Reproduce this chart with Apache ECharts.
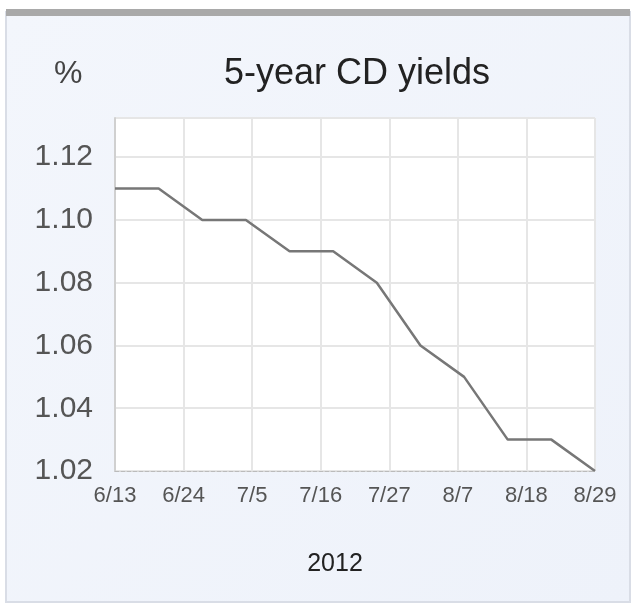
<!DOCTYPE html>
<html>
<head>
<meta charset="utf-8">
<script src="https://cdn.jsdelivr.net/npm/echarts@6/dist/echarts.min.js"></script>
<style>
  html, body { margin: 0; padding: 0; background: #ffffff; }
  #chart { width: 633px; height: 606px; }
</style>
</head>
<body>
<div id="chart"></div>
<script>
// weekly readings, days counted from 6/13/2012
const dayOffsets = [0, 7, 14, 21, 28, 35, 42, 49, 56, 63, 70, 77];
const yields = [1.11, 1.11, 1.10, 1.10, 1.09, 1.09, 1.08, 1.06, 1.05, 1.03, 1.03, 1.02];
const xTickLabels = ["6/13", "6/24", "7/5", "7/16", "7/27", "8/7", "8/18", "8/29"];
const yTicks = [1.02, 1.04, 1.06, 1.08, 1.10, 1.12];

const FONT = "'Liberation Sans', Arial, sans-serif";

const myChart = echarts.init(document.getElementById("chart"));

const option = {
  backgroundColor: "#ffffff",
  animation: false,
  graphic: [
    {
      type: "rect",
      shape: { x: 6, y: 12, width: 624, height: 590 },
      style: {
        fill: {
          type: "linear", x: 0, y: 0, x2: 1, y2: 1,
          colorStops: [
            { offset: 0, color: "#f3f6fc" },
            { offset: 1, color: "#eef2fa" },
          ],
        },
        stroke: "#d9dde6",
        lineWidth: 2,
      },
      z: -10,
    },
    {
      type: "rect",
      shape: { x: 6, y: 9, width: 624, height: 7 },
      style: { fill: "#a9a9a9" },
      z: -9,
    },
    {
      type: "text",
      style: {
        x: 54, y: 74, text: "%", fontSize: 32, fill: "#444",
        fontFamily: FONT, textVerticalAlign: "middle",
      },
    },
    {
      type: "text",
      style: {
        x: 357, y: 74, text: "5-year CD yields", fontSize: 36, fill: "#222",
        fontFamily: FONT, textAlign: "center", textVerticalAlign: "middle",
      },
    },
    {
      type: "text",
      style: {
        x: 335, y: 564, text: "2012", fontSize: 25, fill: "#222",
        fontFamily: FONT, textAlign: "center", textVerticalAlign: "middle",
      },
    },
  ],
  grid: {
    left: 115,
    right: 38,
    top: 118,
    bottom: 135,
    show: true,
    backgroundColor: "#ffffff",
    borderWidth: 0,
  },
  xAxis: {
    type: "value",
    min: 0,
    max: 77,
    interval: 11,
    axisLine: { show: true, lineStyle: { color: "#bbbbbb", type: "dashed", width: 1 } },
    axisTick: { show: false },
    splitLine: { show: true, lineStyle: { color: "#e6e6e6", width: 2 } },
    axisLabel: {
      margin: 14,
      fontSize: 22,
      color: "#555",
      fontFamily: FONT,
      formatter(v) {
        return xTickLabels[Math.round(v / 11)] || "";
      },
    },
  },
  yAxis: {
    type: "value",
    min: 1.02,
    max: 1.1325,
    interval: 0.02,
    axisLine: { show: true, lineStyle: { color: "#d0d0d0", width: 2 } },
    axisTick: { show: false },
    splitLine: { show: true, lineStyle: { color: "#e6e6e6", width: 2 } },
    axisLabel: {
      margin: 22,
      fontSize: 30,
      color: "#555",
      fontFamily: FONT,
      showMaxLabel: false,
      formatter(v) {
        const hit = yTicks.find((t) => Math.abs(t - v) < 1e-6);
        return hit !== undefined ? hit.toFixed(2) : "";
      },
    },
  },
  series: [
    {
      type: "line",
      data: dayOffsets.map((d, i) => [d, yields[i]]),
      showSymbol: false,
      lineStyle: { color: "#777777", width: 2.5 },
      itemStyle: { color: "#777777" },
    },
  ],
};

option && myChart.setOption(option);
</script>
</body>
</html>
